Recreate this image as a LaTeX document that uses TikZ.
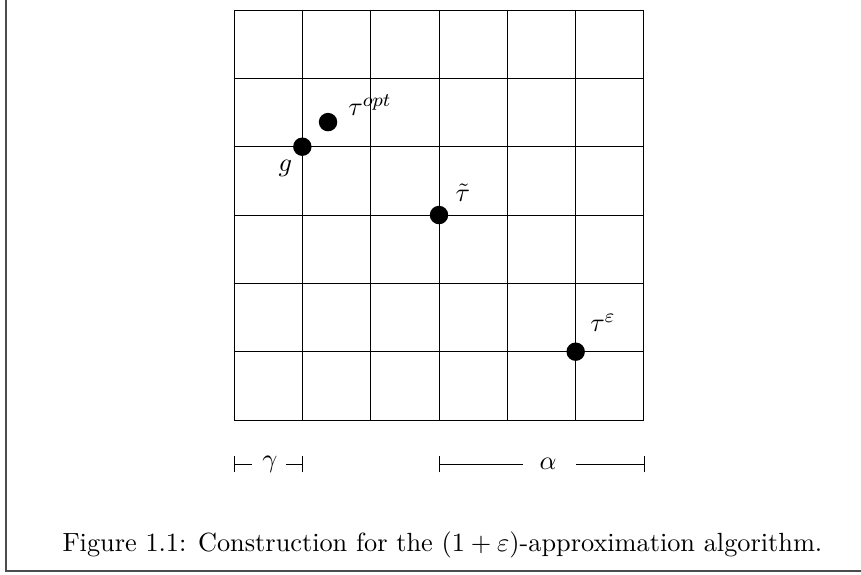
\documentclass[tikz,border=0pt]{standalone}
\begin{document}
\begin{tikzpicture}[
  every node/.style={font=\fontsize{10.95pt}{13.6pt}\selectfont, inner sep=0pt},
  dot/.style={circle, fill=black, minimum size=0.27cm},
  framebar/.style={draw=black!70, line width=0.8pt},
  tick/.style={line width=0.4pt}
]
\useasboundingbox (-3.425,-2.254) rectangle (9.176,6.147);
% frame (cropped)
\draw[framebar] (-3.337,6.3) -- (-3.337,-2.21) -- (9.3,-2.21);
% grid
\draw[line width=0.4pt] (0,0) grid (6,6);
% points
\node[dot] (g) at (1,4) {};
\node[dot] (topt) at (1.376,4.36) {};
\node[dot] (tt) at (3,3) {};
\node[dot] (te) at (5,1) {};
% labels
\node (lg) at (0.75,3.68) {$g$};
\node (lopt) at (1.99,4.61) {$\tau^{opt}$};
\node (ltt) at (3.35,3.32) {$\tilde{\tau}$};
\node (lte) at (5.40,1.42) {$\tau^{\varepsilon}$};
% gamma bar
\coordinate (ga) at (0,-0.644);
\coordinate (gb) at (1,-0.644);
\node (gam) at (0.527,-0.644) {$\gamma$};
\draw[tick] ([yshift=-0.124cm]ga) -- ([yshift=0.124cm]ga);
\draw[tick] (ga) -- (0.26,-0.644);
\draw[tick] (0.76,-0.644) -- (gb);
\draw[tick] ([yshift=-0.124cm]gb) -- ([yshift=0.124cm]gb);
% alpha bar
\coordinate (aa) at (3,-0.644);
\coordinate (ab) at (6,-0.644);
\node (alp) at (4.595,-0.644) {$\alpha$};
\draw[tick] ([yshift=-0.124cm]aa) -- ([yshift=0.124cm]aa);
\draw[tick] (aa) -- (4.23,-0.644);
\draw[tick] (5.005,-0.644) -- (ab);
\draw[tick] ([yshift=-0.124cm]ab) -- ([yshift=0.124cm]ab);
% caption
\node[anchor=base] (cap) at (3.05,-1.92) {Figure 1.1: Construction for the $(1+\varepsilon)$-approximation algorithm.};
\end{tikzpicture}
\end{document}
